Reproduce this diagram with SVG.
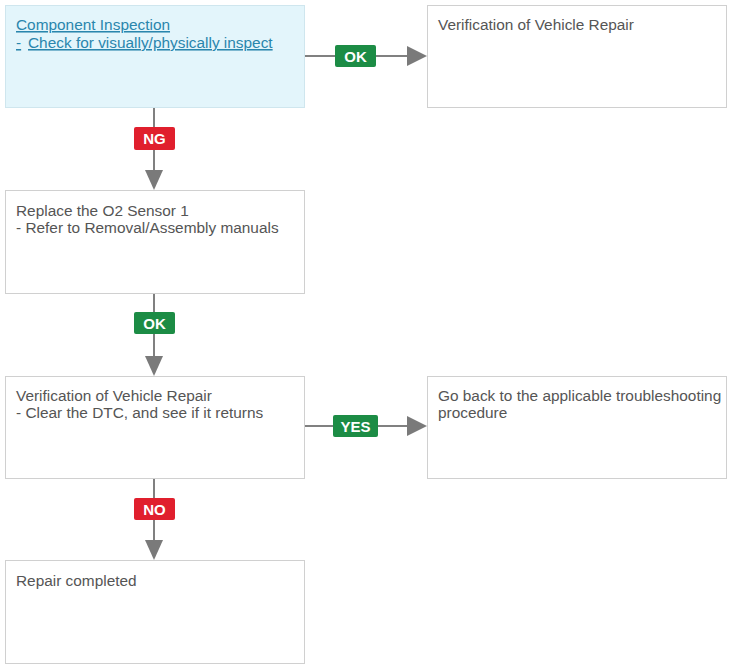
<svg xmlns="http://www.w3.org/2000/svg" width="732" height="669" viewBox="0 0 732 669">
<style>
.box{fill:#fff;stroke:#d0d0d0;stroke-width:1}
.hl{fill:#e3f5fb;stroke:#cfe6ee}
.t{font-family:"Liberation Sans",Arial,sans-serif;font-size:15.4px;fill:#555}
.lk{fill:#2a86ad;text-decoration:underline}
.ln{stroke:#808080;stroke-width:2;fill:none}
.ah{fill:#7a7a7a}
.ok{fill:#1c8c45}
.ng{fill:#e01f2d}
.lb{font-family:"Liberation Sans",Arial,sans-serif;font-size:15px;font-weight:bold;fill:#fff;text-anchor:middle}
</style>
<rect width="732" height="669" fill="#fff"/>
<g id="connectors">
<line class="ln" x1="304" y1="56" x2="410" y2="56"/>
<polygon class="ah" points="407,46 427,56 407,66"/>
<line class="ln" x1="154" y1="107" x2="154" y2="172"/>
<polygon class="ah" points="145,170 163,170 154,190"/>
<line class="ln" x1="154" y1="293" x2="154" y2="358"/>
<polygon class="ah" points="145,356 163,356 154,376"/>
<line class="ln" x1="304" y1="426" x2="410" y2="426"/>
<polygon class="ah" points="407,416 427,426 407,436"/>
<line class="ln" x1="154" y1="478" x2="154" y2="542"/>
<polygon class="ah" points="145,540 163,540 154,560"/>
<g id="lbl-ok1"><rect class="ok" x="335" y="45" width="41" height="22" rx="2"/><text class="lb" x="355.5" y="61.5">OK</text></g>
<g id="lbl-ng"><rect class="ng" x="134" y="127" width="41" height="23" rx="2"/><text class="lb" x="154.5" y="144">NG</text></g>
<g id="lbl-ok2"><rect class="ok" x="134" y="312" width="41" height="22" rx="2"/><text class="lb" x="154.5" y="328.5">OK</text></g>
<g id="lbl-yes"><rect class="ok" x="333" y="415" width="45" height="22" rx="2"/><text class="lb" x="355.5" y="431.5">YES</text></g>
<g id="lbl-no"><rect class="ng" x="134" y="498" width="41" height="22" rx="2"/><text class="lb" x="154.5" y="514.5">NO</text></g>
</g>
<g id="n1"><rect class="hl" x="5.5" y="5.5" width="299" height="102"/>
<text class="t lk" x="16" y="30">Component Inspection</text>
<text class="t lk" x="16" y="48">-</text>
<text class="t lk" x="28" y="48">Check for visually/physically inspect</text></g>
<g id="n2"><rect class="box" x="427.5" y="5.5" width="299" height="102"/>
<text class="t" x="438" y="30">Verification of Vehicle Repair</text></g>
<g id="n3"><rect class="box" x="5.5" y="190.5" width="299" height="103"/>
<text class="t" x="16" y="216">Replace the O2 Sensor 1</text>
<text class="t" x="16" y="233">- Refer to Removal/Assembly manuals</text></g>
<g id="n4"><rect class="box" x="5.5" y="376.5" width="299" height="102"/>
<text class="t" x="16" y="401">Verification of Vehicle Repair</text>
<text class="t" x="16" y="418">- Clear the DTC, and see if it returns</text></g>
<g id="n5"><rect class="box" x="427.5" y="376.5" width="299" height="102"/>
<text class="t" x="438" y="401">Go back to the applicable troubleshooting</text>
<text class="t" x="438" y="418">procedure</text></g>
<g id="n6"><rect class="box" x="5.5" y="560.5" width="299" height="103"/>
<text class="t" x="16" y="586">Repair completed</text></g>
</svg>
